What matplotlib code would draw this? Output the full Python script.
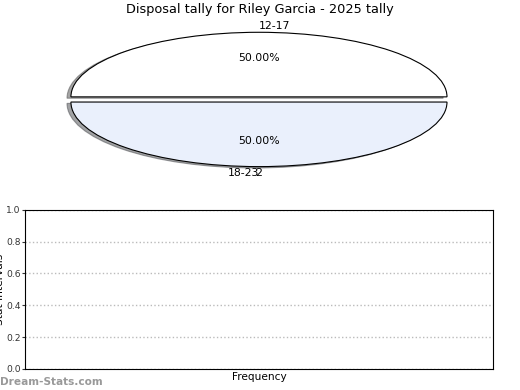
import matplotlib
matplotlib.use("Agg")
import matplotlib.pyplot as plt

title = "Disposal tally for Riley Garcia - 2025 tally"
categories = ["12-17", "18-23"]
values = [1, 1]
colors = ["#ffffff", "#eaf0fc"]
extra_label = "2"
yticks = [0.0, 0.2, 0.4, 0.6, 0.8, 1.0]

fig = plt.figure(figsize=(5.2, 3.9), dpi=100)

ax1 = fig.add_axes([0.046, 0.538, 0.904, 0.414])
fig.text(0.5, 0.975, title, fontsize=9.3, ha="center", va="center")
wedges, texts, autotexts = ax1.pie(
    values, labels=categories, colors=colors, autopct="%.2f%%",
    explode=[0.04, 0.04],
    shadow={"ox": -0.015, "oy": -0.015, "shade": 0.7},
    startangle=0,
    wedgeprops=dict(edgecolor="black", linewidth=0.8),
    textprops=dict(fontsize=7.8),
)
texts[0].set_ha("left")
texts[1].set_ha("right")
x2, y2 = texts[1].get_position()
ax1.text(x2, y2, extra_label, ha="center", va=texts[1].get_va(), fontsize=7.8)
ax1.set_aspect("auto")

ax2 = fig.add_axes([0.048, 0.054, 0.9, 0.408])
ax2.set_ylim(0, 1)
ax2.set_yticks(yticks)
ax2.set_yticklabels([f"{v:.1f}" for v in yticks], fontsize=6.6)
ax2.set_xticks([])
ax2.tick_params(axis="y", length=2, pad=1, colors="#333333")
ax2.yaxis.grid(True, linestyle=":", color="#bbbbbb", linewidth=1)
ax2.set_xlabel("Frequency", fontsize=7.6, labelpad=2)
ax2.set_ylabel("Stat Intervals", fontsize=7.6, labelpad=1)
for s in ax2.spines.values():
    s.set_linewidth(0.8)

fig.text(0.0, 0.008, "Dream-Stats.com", fontsize=7.6, fontweight="bold", color="#999999", ha="left", va="bottom")

fig.savefig("out.png", dpi=100)
